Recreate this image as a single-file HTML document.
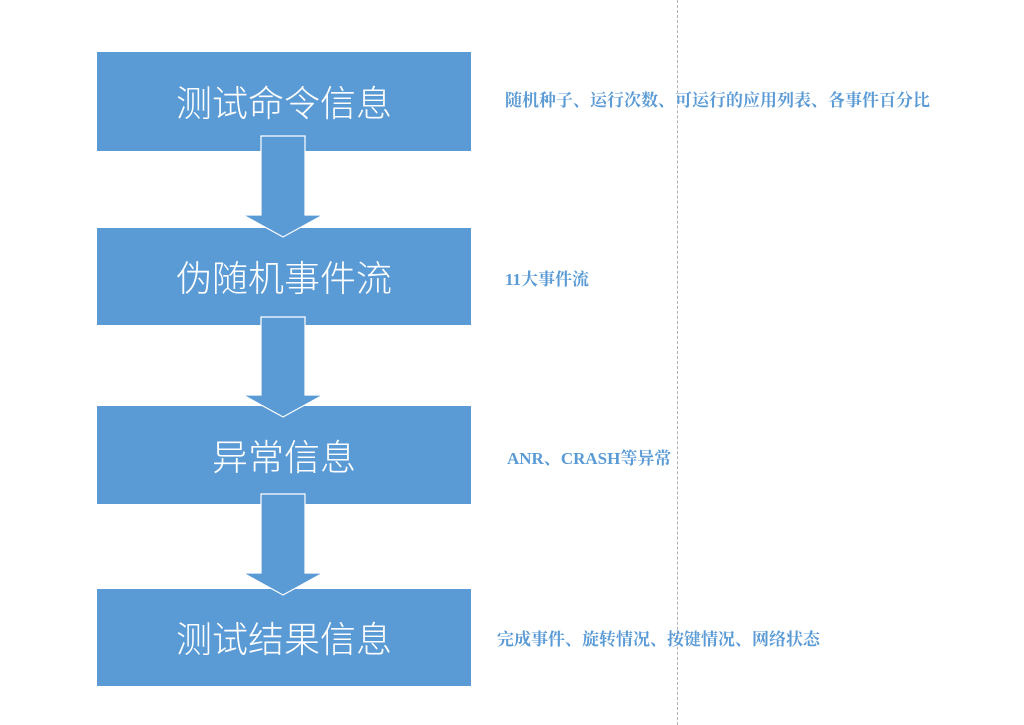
<!DOCTYPE html>
<html><head><meta charset="utf-8"><style>
body{margin:0;width:1024px;height:725px;background:#fff;position:relative;overflow:hidden;font-family:"Liberation Sans","Noto Sans CJK SC",sans-serif}
.b{position:absolute;left:97px;width:374px;background:#5b9bd5;color:#fff;font-size:36px;text-align:center;font-family:"Noto Sans CJK SC",sans-serif;font-weight:300}
.t{position:absolute;color:#5b9bd5;font-size:17px;font-weight:bold;font-family:"Liberation Serif","Noto Serif CJK SC",serif;white-space:nowrap}
</style></head><body>
<div style="position:absolute;left:677px;top:0;height:725px;border-left:1px dashed #b0b0b0"></div>
<div class="b" style="top:52px;height:99px;line-height:99px">测试命令信息</div>
<div class="b" style="top:228px;height:97px;line-height:97px">伪随机事件流</div>
<div class="b" style="top:406px;height:98px;line-height:98px">异常信息</div>
<div class="b" style="top:589px;height:97px;line-height:97px">测试结果信息</div>
<svg width="1024" height="725" style="position:absolute;left:0;top:0">
<g fill="#5b9bd5" stroke="#fff" stroke-width="1.2">
<polygon points="261,136 305,136 305,215 323,215 283,237 243,215 261,215"/>
<polygon points="261,317 305,317 305,395 323,395 283,417 243,395 261,395"/>
<polygon points="261,494 305,494 305,573 323,573 283,595 243,573 261,573"/>
</g></svg>
<div class="t" style="left:505px;top:86px">随机种子、运行次数、可运行的应用列表、各事件百分比</div>
<div class="t" style="left:505px;top:265px">11大事件流</div>
<div class="t" style="left:507px;top:444px">ANR、CRASH等异常</div>
<div class="t" style="left:497px;top:625px">完成事件、旋转情况、按键情况、网络状态</div>
</body></html>
